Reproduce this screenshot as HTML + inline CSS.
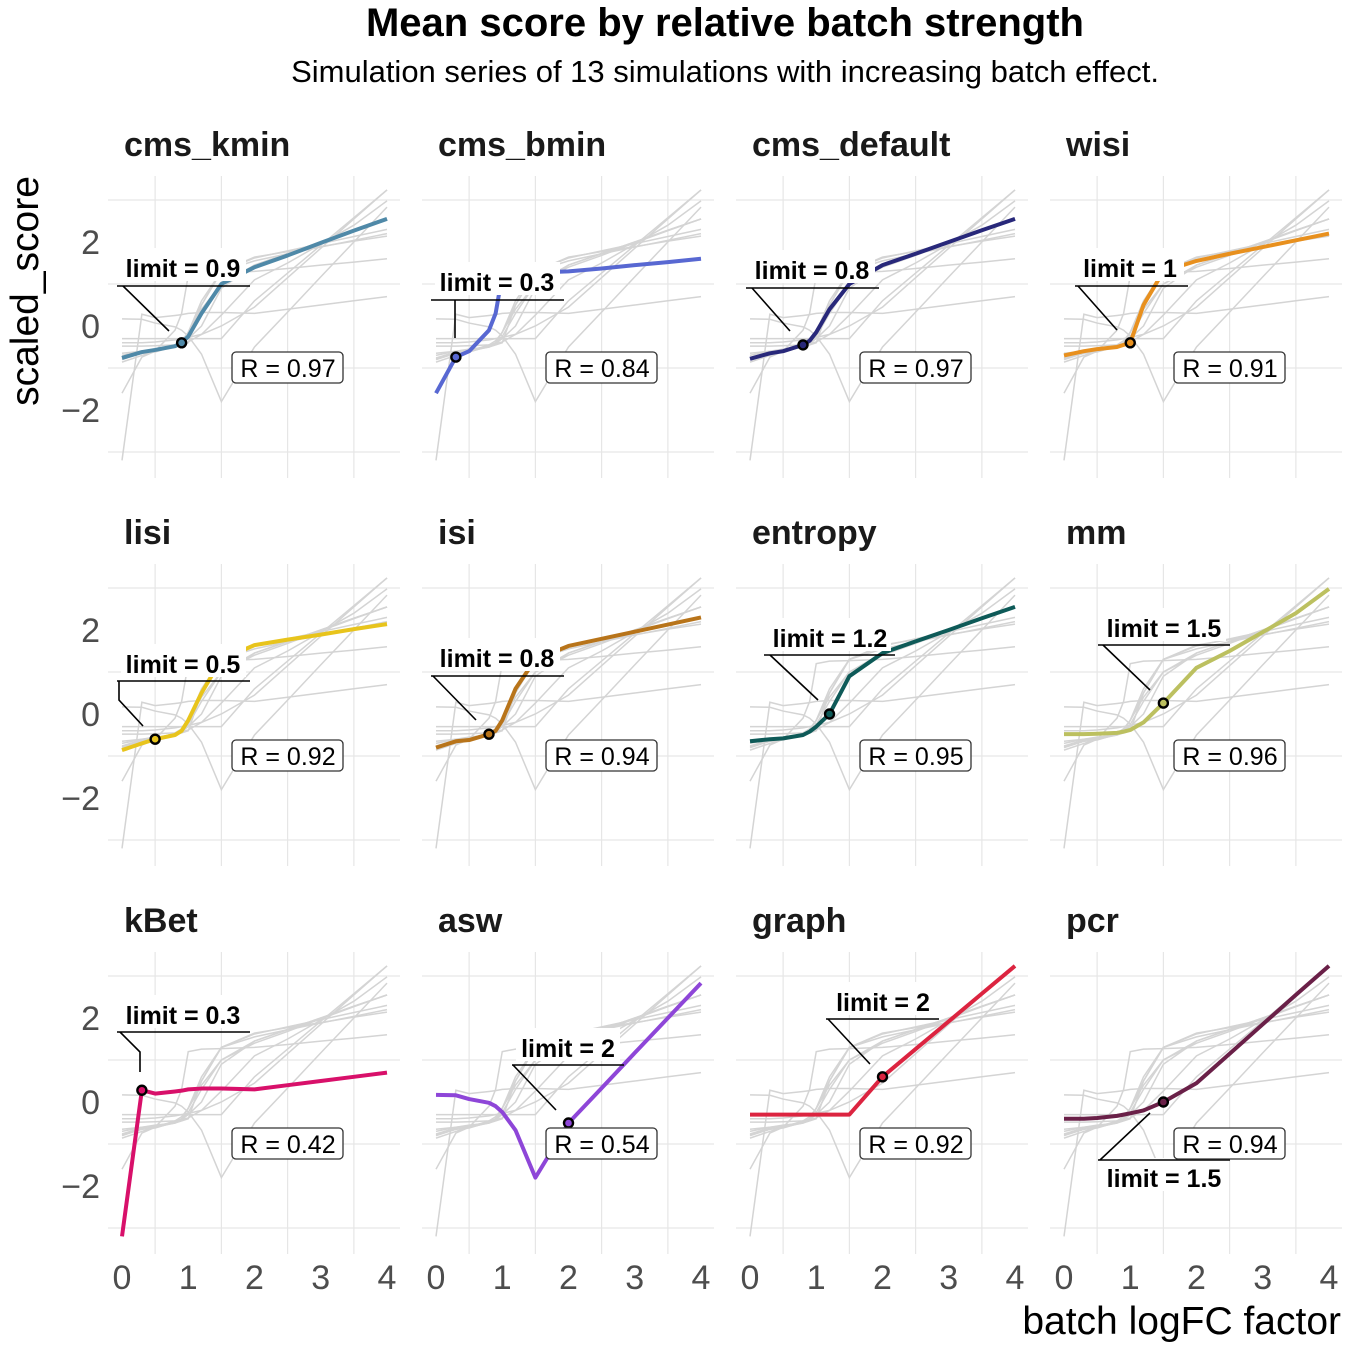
<!DOCTYPE html>
<html><head><meta charset="utf-8">
<style>
html,body{margin:0;padding:0;background:#fff;}
svg{display:block;font-family:"Liberation Sans",sans-serif;}
</style></head>
<body>
<svg id="chart" width="1350" height="1350" viewBox="0 0 1350 1350">
<text x="725" y="36" text-anchor="middle" font-size="40" font-weight="bold" fill="#000">Mean score by relative batch strength</text>
<text x="725" y="82" text-anchor="middle" font-size="31" fill="#000">Simulation series of 13 simulations with increasing batch effect.</text>
<text transform="translate(38,291) rotate(-90)" text-anchor="middle" font-size="39" fill="#000">scaled_score</text>
<text x="1341" y="1334" text-anchor="end" font-size="39" fill="#000">batch logFC factor</text>
<g id="panels"></g>
</svg>
<script>
const NS = "http://www.w3.org/2000/svg";
const xVals = [0, 0.3, 0.5, 0.8, 0.9, 1, 1.2, 1.5, 2, 2.5, 3, 3.5, 4];
const metricNames = ["cms_kmin","cms_bmin","cms_default","wisi","lisi","isi","entropy","mm","kBet","asw","graph","pcr"];
const sCmsKmin   = [-0.76,-0.62,-0.57,-0.48,-0.4,-0.25,0.3,1.0,1.4,1.68,1.98,2.27,2.55];
const sCmsBmin   = [-1.6,-0.74,-0.6,-0.1,0.3,1.2,1.26,1.27,1.3,1.37,1.45,1.52,1.6];
const sCmsDefault= [-0.78,-0.65,-0.6,-0.45,-0.35,-0.15,0.4,1.0,1.45,1.72,2.0,2.28,2.55];
const sWisi      = [-0.7,-0.6,-0.55,-0.5,-0.45,-0.4,0.5,1.3,1.55,1.72,1.88,2.04,2.2];
const sLisi      = [-0.86,-0.7,-0.6,-0.5,-0.4,-0.15,0.5,1.3,1.64,1.77,1.89,2.02,2.14];
const sIsi       = [-0.8,-0.65,-0.62,-0.48,-0.4,-0.15,0.6,1.3,1.62,1.79,1.96,2.13,2.3];
const sEntropy   = [-0.65,-0.6,-0.58,-0.5,-0.42,-0.3,0.0,0.9,1.45,1.73,2.0,2.28,2.55];
const sMm        = [-0.48,-0.48,-0.47,-0.45,-0.42,-0.38,-0.2,0.26,1.1,1.5,1.95,2.4,2.98];
const sKBet      = [-3.2,0.28,0.2,0.25,0.27,0.3,0.32,0.32,0.3,0.4,0.5,0.6,0.7];
const sAsw       = [0.17,0.16,0.07,-0.02,-0.1,-0.24,-0.67,-1.8,-0.5,0.33,1.17,2.0,2.83];
const sGraph     = [-0.3,-0.3,-0.3,-0.3,-0.3,-0.3,-0.3,-0.3,0.6,1.26,1.92,2.58,3.24];
const sPcr       = [-0.4,-0.4,-0.38,-0.33,-0.3,-0.27,-0.2,0.0,0.45,1.15,1.85,2.55,3.24];
const allSeries = [sCmsKmin,sCmsBmin,sCmsDefault,sWisi,sLisi,sIsi,sEntropy,sMm,sKBet,sAsw,sGraph,sPcr];
const limits = [0.9,0.3,0.8,1,0.5,0.8,1.2,1.5,0.3,2,2,1.5];
const rValues = ["0.97","0.84","0.97","0.91","0.92","0.94","0.95","0.96","0.42","0.54","0.92","0.94"];
const yTicks = [2,0,-2];
const xTicks = [0,1,2,3,4];
const colors = ["#4f89a8","#5868d2","#28287a","#e8901e","#e8c41c","#b8741a","#0e5a58","#bcc060","#d8106a","#8e46d8","#dc2440","#6a2048"];
// label layout relative to panel origin: [textX, textY, hlineY, x1, x2, leader points]
const labelLayout = [
 [75,92,110,9,142,[[15,110],[61,155]]],
 [75,106,124,9,142,[[33,124],[33,162]]],
 [76,94,112,10,143,[[16,112],[54,155]]],
 [80,92,110,25,138,[[28,110],[67,154]]],
 [75,100,117,9,142,[[11,117],[11,136],[35,162]]],
 [75,94,112,9,142,[[11,112],[54,156]]],
 [94,74,91,28,159,[[34,91],[82,136]]],
 [114,64,81,48,180,[[53,81],[100,126]]],
 [75,63,80,9,142,[[12,80],[32,100],[32,120]]],
 [146,96,113,90,202,[[91,113],[134,158]]],
 [147,50,67,90,203,[[92,67],[134,112]]],
 [114,226,208,48,180,[[50,208],[100,161]]]
];
function xScale(c,v){ return 122 + c*314 + v*66.25; }
function yScale(r,v){ return 326 + r*388 - v*42; }
function mk(tag, attrs, parent){ const e=document.createElementNS(NS,tag); for(const k in attrs) e.setAttribute(k,attrs[k]); parent.appendChild(e); return e; }
function interp(series, x){
  for(let i=0;i<xVals.length-1;i++){ if(x>=xVals[i]&&x<=xVals[i+1]){ const t=(x-xVals[i])/(xVals[i+1]-xVals[i]); return series[i]+t*(series[i+1]-series[i]); } }
  return series[series.length-1];
}
const root = document.getElementById("panels");
for(let p=0;p<12;p++){
  const c=p%4, r=Math.floor(p/4);
  const ox=108+c*314, oy=176+r*388;
  const g=mk("g",{},root);
  
  
  [0.5,1.5,2.5,3.5].forEach(v=>{ const l=mk("line",{x1:xScale(c,v),x2:xScale(c,v),y1:oy,y2:oy+302,stroke:"#e6e6e6","stroke-width":1.2},g);
    
     });
  [3,1,-1,-3].forEach(v=>{ const l=mk("line",{x1:ox,x2:ox+292,y1:yScale(r,v),y2:yScale(r,v),stroke:"#e6e6e6","stroke-width":1.2},g);
    
     });
  const t=mk("text",{x:ox+16,y:oy-20,"font-size":34,"font-weight":"bold",fill:"#1a1a1a"},g);
  t.textContent=metricNames[p];
  
  
  for(let s=0;s<12;s++){ if(s===p) continue;
    const pts=xVals.map((x,i)=>xScale(c,x)+","+yScale(r,allSeries[s][i])).join(" ");
    const pl=mk("polyline",{points:pts,fill:"none",stroke:"#d4d4d4","stroke-width":1.5},g);
    
    
  }
  const pts=xVals.map((x,i)=>xScale(c,x)+","+yScale(r,allSeries[p][i])).join(" ");
  const main=mk("polyline",{points:pts,fill:"none",stroke:colors[p],"stroke-width":4,"stroke-linejoin":"round"},g);
  
  
  const L=labelLayout[p];
  const bg=mk("rect",{x:ox+L[3]+4,y:oy+L[1]-20,width:(L[4]-L[3])-8,height:33,fill:"#fff"},g);
  
  
  const lt=mk("text",{x:ox+L[0],y:oy+L[1]+9,"text-anchor":"middle","font-size":25,"font-weight":"bold",fill:"#000"},g);
  lt.textContent="limit = "+limits[p];
  
  
  const hl=mk("line",{x1:ox+L[3],x2:ox+L[4],y1:oy+L[2],y2:oy+L[2],stroke:"#000","stroke-width":1.6},g);
  
  
  const segPts=L[5].map(q=>(ox+q[0])+","+(oy+q[1])).join(" ");
  const sg=mk("polyline",{points:segPts,fill:"none",stroke:"#000","stroke-width":1.6},g);
  
  
  const dot=mk("circle",{cx:xScale(c,limits[p]),cy:yScale(r,interp(allSeries[p],limits[p])),r:4.5,fill:colors[p],stroke:"#000","stroke-width":2.4},g);
  
  
  const rb=mk("rect",{x:ox+124,y:oy+176,width:111,height:31,rx:4,fill:"#fff",stroke:"#333","stroke-width":1.3},g);
  
  
  const rt=mk("text",{x:ox+180,y:oy+201,"text-anchor":"middle","font-size":25,fill:"#000"},g);
  rt.textContent="R = "+rValues[p];
  
  
  if(c===0){ yTicks.forEach(v=>{ const yt=mk("text",{x:100,y:yScale(r,v)+12,"text-anchor":"end","font-size":34,fill:"#4d4d4d"},g);
    yt.textContent=(v<0?"\u2212"+Math.abs(v):String(v));
    
     }); }
  if(r===2){ xTicks.forEach(v=>{ const xt=mk("text",{x:xScale(c,v),y:1289,"text-anchor":"middle","font-size":34,fill:"#4d4d4d"},g);
    xt.textContent=String(v);
    
     }); }
}
</script>
</body></html>
